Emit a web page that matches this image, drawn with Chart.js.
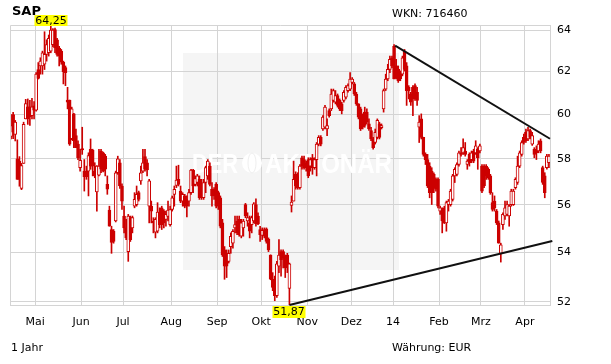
<!DOCTYPE html>
<html>
<head>
<meta charset="utf-8">
<script src="https://cdn.jsdelivr.net/npm/chart.js@4"></script>
<style>
  html, body { margin: 0; padding: 0; background: #fff; }
  canvas { display: block; }
</style>
</head>
<body>
<canvas id="chart" width="611" height="364"></canvas>
<script>
//------------------ Data ------------------//
// x axis: one slot per trading day, month ticks at these day indices
const monthLabels = ['Mai', 'Jun', 'Jul', 'Aug', 'Sep', 'Okt', 'Nov', 'Dez', '14', 'Feb', 'Mrz', 'Apr'];
const monthStarts = [12, 34, 54, 77, 99, 120, 142, 163, 183, 205, 225, 246];
const yTicks = [52, 54, 56, 58, 60, 62, 64];

const open = [
  59.0, 60.0, 59.1, 58.0, 57.9, 56.7, 57.8, 59.8, 60.35, 60.35,
  59.95, 60.4, 60.2, 62.1, 62.27, 62.27, 62.35, 62.82, 62.9, 62.98,
  63.29, 64.03, 63.53, 63.13, 62.98, 62.45, 62.19, 60.67, 60.65, 58.9,
  60.03, 59.04, 58.66, 57.61, 58.46, 57.46, 57.46, 57.46, 58.43, 58.38,
  57.46, 56.55, 57.28, 58.35, 58.27, 58.12, 56.88, 55.77, 54.95, 54.88,
  55.31, 57.39, 57.83, 56.81, 55.52, 55.02, 54.03, 55.45, 55.02, 55.94,
  56.01, 56.52, 57.03, 57.46, 58.1, 57.83, 55.94, 55.94, 55.31, 54.84,
  54.88, 55.69, 55.87, 55.73, 55.38, 55.5, 55.16, 55.8, 56.45, 56.84,
  57.1, 56.59, 56.16, 56.38, 56.23, 56.16, 56.52, 57.51, 56.88, 56.96,
  57.1, 56.81, 56.3, 56.96, 57.25, 57.68, 56.67, 56.67, 56.88, 56.52,
  56.3, 55.23, 54.1, 53.96, 53.63, 54.24, 54.38, 55.02, 55.31, 55.38,
  54.67, 55.02, 56.01, 55.31, 55.23, 55.16, 55.31, 56.01, 55.52, 54.95,
  54.7, 54.95, 54.98, 54.55, 53.89, 52.9, 52.9, 52.24, 53.43, 54.03,
  54.03, 53.83, 53.89, 52.53, 55.97, 56.16, 57.32, 57.25, 56.74, 58.05,
  57.97, 57.83, 57.97, 57.68, 58.05, 57.61, 57.97, 58.66, 58.96, 59.34,
  59.42, 59.34, 60.18, 60.26, 60.65, 60.57, 60.88, 60.65, 60.49, 60.65,
  60.8, 61.11, 61.18, 61.49, 61.42, 60.95, 60.49, 60.26, 59.95, 60.11,
  60.11, 59.57, 59.27, 58.89, 58.73, 58.96, 59.57, 59.4, 60.26, 61.18,
  61.65, 62.11, 62.66, 63.21, 62.27, 62.11, 61.95, 61.88, 62.98, 62.27,
  61.26, 60.95, 61.26, 61.34, 61.03, 59.42, 59.8, 58.96, 58.2, 57.97,
  57.68, 57.46, 57.32, 57.1, 57.1, 55.73, 55.8, 55.87, 55.23, 56.01,
  56.01, 56.23, 57.25, 57.32, 57.75, 58.27, 58.27, 58.35, 57.75, 58.2,
  57.97, 58.35, 58.27, 58.43, 58.35, 57.68, 57.68, 57.68, 57.54, 57.25,
  56.09, 56.16, 55.73, 55.23, 53.96, 55.16, 55.52, 55.59, 55.52, 56.01,
  56.01, 56.74, 56.96, 57.68, 58.2, 58.96, 59.19, 58.89, 59.27, 58.66,
  58.43, 58.43, 58.35, 58.81, 57.61, 57.25, 57.61, 57.83
];
const high = [
  60.0, 60.1, 59.73, 58.85, 58.1, 57.8, 59.65, 60.7, 60.72, 60.65,
  60.75, 60.6, 61.95, 62.43, 62.66, 62.98, 63.92, 63.53, 63.76, 64.25,
  64.08, 64.1, 63.6, 63.21, 63.06, 62.5, 62.27, 61.26, 60.67, 60.34,
  60.05, 59.34, 58.81, 58.43, 59.42, 57.97, 57.68, 58.27, 58.89, 58.43,
  57.83, 57.7, 58.43, 58.43, 58.3, 58.2, 57.25, 55.94, 55.09, 54.95,
  57.46, 58.12, 57.97, 56.9, 55.94, 55.38, 55.59, 55.52, 55.52, 56.52,
  56.81, 56.59, 57.68, 58.43, 58.43, 57.97, 57.1, 56.16, 55.45, 55.45,
  56.09, 55.87, 55.94, 55.8, 55.73, 56.16, 55.94, 56.38, 56.81, 57.68,
  57.72, 56.81, 56.52, 56.45, 56.38, 56.67, 57.54, 57.54, 57.25, 57.32,
  57.25, 57.1, 57.1, 57.68, 57.97, 57.83, 56.96, 56.74, 56.96, 56.59,
  56.38, 55.38, 54.24, 54.1, 54.1, 54.81, 54.95, 55.52, 55.52, 55.52,
  55.38, 55.38, 56.06, 55.66, 55.52, 55.52, 56.09, 56.26, 55.66, 55.09,
  55.02, 55.02, 55.02, 54.6, 53.9, 53.17, 53.03, 53.63, 54.53, 54.1,
  54.1, 53.89, 53.96, 53.56, 56.38, 57.9, 57.43, 57.39, 57.75, 58.12,
  58.12, 57.9, 58.05, 58.05, 58.2, 58.05, 58.73, 59.04, 59.04, 59.95,
  60.42, 59.8, 60.26, 61.18, 61.18, 61.11, 60.95, 60.72, 60.57, 61.11,
  61.34, 61.42, 61.95, 61.72, 61.49, 61.03, 60.5, 60.34, 60.03, 60.34,
  60.26, 59.8, 59.42, 58.96, 59.34, 59.8, 59.65, 59.57, 61.18, 61.88,
  62.35, 62.74, 62.74, 63.29, 62.58, 62.27, 62.03, 62.74, 63.06, 62.43,
  61.34, 61.03, 61.34, 61.42, 61.26, 59.95, 60.03, 58.97, 58.27, 58.2,
  57.83, 57.61, 57.39, 57.17, 57.17, 55.94, 55.87, 55.94, 56.16, 56.23,
  56.67, 57.32, 57.61, 57.83, 58.35, 58.5, 58.89, 58.73, 57.97, 58.27,
  58.35, 58.43, 58.81, 58.5, 58.66, 57.75, 57.75, 57.75, 57.61, 57.32,
  56.52, 56.38, 55.8, 55.31, 54.38, 55.66, 56.16, 56.16, 56.01, 56.67,
  56.67, 57.17, 58.12, 58.35, 58.81, 59.11, 59.34, 59.42, 59.34, 59.19,
  58.5, 58.58, 58.81, 58.89, 57.68, 57.39, 58.2, 58.2
];
const low = [
  58.89, 58.9, 58.8, 57.1, 56.8, 56.65, 57.8, 59.8, 59.55, 59.5,
  59.8, 59.8, 60.15, 61.65, 61.88, 61.88, 62.1, 62.5, 62.74, 62.9,
  63.2, 62.9, 62.74, 62.27, 62.35, 61.42, 61.34, 60.26, 58.6, 58.85,
  58.5, 58.5, 57.97, 57.46, 58.2, 56.59, 57.1, 56.38, 57.54, 57.25,
  57.17, 55.73, 57.25, 57.39, 57.43, 57.25, 56.45, 55.09, 53.96, 54.38,
  55.27, 57.32, 56.7, 55.8, 54.81, 54.53, 53.63, 54.45, 54.81, 55.87,
  55.94, 56.16, 56.88, 57.39, 57.46, 57.25, 55.23, 55.23, 54.81, 54.6,
  54.81, 55.02, 54.95, 55.02, 55.09, 55.31, 55.09, 55.73, 55.94, 56.74,
  56.81, 56.09, 55.94, 55.87, 55.48, 55.94, 56.45, 56.52, 56.81, 56.81,
  56.23, 56.23, 56.23, 56.52, 57.1, 56.81, 55.94, 56.23, 55.87, 55.8,
  55.02, 53.83, 52.9, 52.97, 53.56, 53.96, 54.17, 54.81, 54.74, 54.67,
  54.6, 54.67, 55.45, 55.09, 54.6, 54.81, 55.23, 55.09, 55.16, 54.45,
  54.53, 54.6, 54.38, 54.03, 52.88, 52.44, 52.04, 52.17, 53.17, 53.03,
  53.36, 52.97, 53.17, 51.87, 55.69, 56.16, 56.67, 56.67, 56.67, 57.54,
  57.54, 57.46, 57.17, 57.46, 57.32, 57.54, 57.25, 58.58, 58.58, 59.27,
  59.34, 59.04, 59.88, 60.18, 60.57, 60.49, 60.34, 60.18, 60.03, 60.57,
  60.72, 61.03, 61.11, 61.42, 60.88, 60.42, 59.8, 59.27, 59.34, 59.42,
  59.57, 59.27, 58.81, 58.43, 58.66, 58.89, 58.89, 59.34, 60.11, 61.11,
  61.57, 61.95, 62.19, 61.65, 61.65, 61.49, 61.57, 61.8, 62.03, 60.42,
  60.72, 60.42, 59.95, 60.65, 60.42, 58.73, 58.89, 58.12, 57.75, 56.74,
  56.3, 56.01, 56.52, 56.59, 55.87, 55.59, 54.81, 55.2, 54.88, 55.73,
  55.94, 56.16, 56.96, 57.25, 57.68, 58.12, 58.2, 58.12, 57.54, 57.68,
  57.83, 57.83, 58.2, 57.54, 58.27, 56.52, 56.74, 57.1, 57.1, 56.45,
  55.73, 55.73, 55.16, 54.38, 53.6, 54.95, 55.38, 55.52, 55.09, 55.94,
  55.97, 56.67, 56.88, 57.61, 58.12, 58.66, 58.73, 58.81, 58.89, 58.6,
  58.05, 57.97, 58.27, 58.27, 56.88, 56.3, 57.54, 57.61
];
const close = [
  59.5, 59.2, 59.65, 57.1, 57.1, 57.7, 59.55, 60.5, 59.8, 59.9,
  60.35, 60.2, 61.88, 61.68, 62.5, 62.9, 62.82, 63.29, 63.6, 64.0,
  64.0, 63.13, 62.82, 62.74, 62.45, 62.0, 61.95, 60.57, 58.66, 60.26,
  58.81, 58.5, 58.05, 57.94, 58.4, 57.22, 57.22, 58.15, 57.68, 57.68,
  57.25, 57.68, 57.68, 57.54, 57.46, 57.54, 56.67, 55.09, 54.41, 54.45,
  57.39, 58.0, 56.81, 56.16, 55.02, 54.6, 55.52, 54.53, 55.45, 56.23,
  56.45, 56.23, 57.39, 57.83, 57.54, 57.51, 57.03, 55.73, 55.23, 55.38,
  55.69, 55.16, 55.16, 55.23, 55.59, 55.77, 55.8, 56.3, 56.67, 57.07,
  56.88, 56.16, 56.45, 55.94, 55.94, 56.52, 57.51, 56.81, 57.13, 57.25,
  56.3, 56.3, 56.96, 57.61, 57.9, 56.88, 56.38, 56.38, 55.94, 55.94,
  55.09, 53.89, 53.43, 53.43, 53.96, 54.67, 54.88, 55.16, 54.81, 54.74,
  55.23, 55.31, 55.52, 55.45, 54.88, 55.45, 56.04, 55.2, 55.2, 54.74,
  54.92, 54.67, 54.45, 54.1, 52.9, 52.57, 52.24, 53.53, 53.89, 53.7,
  53.76, 53.36, 53.5, 53.53, 56.12, 57.1, 56.81, 56.74, 57.68, 57.68,
  57.61, 57.61, 57.25, 57.97, 57.61, 57.97, 58.66, 58.96, 58.66, 59.88,
  60.34, 59.5, 59.95, 60.95, 61.11, 60.88, 60.42, 60.26, 60.18, 61.03,
  61.26, 61.34, 61.65, 61.65, 60.95, 60.49, 59.88, 59.34, 59.42, 59.5,
  59.65, 59.34, 58.89, 58.5, 59.19, 59.73, 58.96, 59.5, 61.11, 61.65,
  62.11, 62.58, 62.27, 61.65, 61.72, 61.57, 61.65, 62.66, 62.11, 61.11,
  61.11, 60.57, 60.72, 60.72, 60.65, 59.65, 58.96, 58.2, 57.97, 56.81,
  56.52, 56.52, 56.74, 56.67, 55.94, 55.87, 55.31, 55.23, 56.09, 56.16,
  56.59, 57.25, 57.54, 57.75, 58.27, 58.2, 58.5, 58.2, 57.9, 57.83,
  58.27, 57.9, 58.58, 58.05, 58.58, 56.59, 56.81, 57.25, 57.17, 56.52,
  55.8, 55.87, 55.23, 54.38, 54.31, 55.59, 55.87, 56.01, 55.94, 56.59,
  56.59, 57.1, 57.68, 58.27, 58.73, 58.73, 58.81, 59.27, 58.96, 59.04,
  58.2, 58.27, 58.66, 58.35, 56.96, 56.52, 58.12, 58.12
];

// trend lines (day index, price)
const upperTrend = [{ x: 183.5, y: 63.25 }, { x: 257.5, y: 58.9 }];
const lowerTrend = [{ x: 133, y: 51.87 }, { x: 258.6, y: 54.47 }];

//------------------ Styles ------------------//
const RED = '#cc0000';
const GRID = '#d4d4d4';
const FONT = '"DejaVu Sans", Verdana, sans-serif';

const wicks = close.map((c, i) => ({ x: i, y: [low[i], high[i]] }));
const bodies = close.map((c, i) => ({ x: i, y: [Math.min(open[i], c), Math.max(open[i], c)] }));

function priceLabel(v) {
  return v.toFixed(2).replace('.', ',');
}

// draw text squeezed to a given width
function fitText(ctx, txt, x, y, width) {
  const w = ctx.measureText(txt).width;
  ctx.save();
  ctx.translate(x, y);
  ctx.scale(width / w, 1);
  ctx.fillText(txt, 0, 0);
  ctx.restore();
}

//------------------ Decorations ------------------//
const decor = {
  id: 'decor',
  beforeDraw(chart) {
    const ctx = chart.ctx;
    ctx.save();
    ctx.fillStyle = '#fff';
    ctx.fillRect(0, 0, chart.width, chart.height);
    // watermark panel
    ctx.fillStyle = '#f5f5f5';
    ctx.fillRect(183, 53, 216, 217);
    ctx.restore();
  },
  beforeDatasetsDraw(chart) {
    const ctx = chart.ctx;
    ctx.save();
    ctx.fillStyle = '#ffffff';
    ctx.font = 'bold 27px "Liberation Sans", Arial, sans-serif';
    fitText(ctx, 'DER', 192, 173, 46);
    ctx.beginPath();
    ctx.arc(252, 163, 10, 0, Math.PI * 2);
    ctx.fill();
    ctx.strokeStyle = '#efefef';
    ctx.lineWidth = 1;
    ctx.beginPath();
    ctx.ellipse(252, 163, 4, 10, 0, 0, Math.PI * 2);
    ctx.stroke();
    fitText(ctx, 'AKTIONÄR', 265, 173, 127);
    ctx.restore();
  },
  afterDraw(chart) {
    const ctx = chart.ctx;
    const xs = chart.scales.x, ys = chart.scales.y;
    const a = chart.chartArea;
    ctx.save();
    // top and left frame
    ctx.strokeStyle = GRID;
    ctx.lineWidth = 1;
    ctx.beginPath();
    ctx.moveTo(a.left + 0.5, a.bottom);
    ctx.lineTo(a.left + 0.5, a.top + 0.5);
    ctx.lineTo(a.right, a.top + 0.5);
    ctx.stroke();

    ctx.fillStyle = '#000';
    ctx.textBaseline = 'middle';
    ctx.textAlign = 'left';
    ctx.font = 'bold 13px ' + FONT;
    ctx.fillText('SAP', 12, 12);
    ctx.font = '11px ' + FONT;
    ctx.fillText('WKN: 716460', 392, 14);
    ctx.fillText('1 Jahr', 11, 348);
    ctx.fillText('Währung: EUR', 392, 348);

    // max / min flags
    const hi = Math.max(...high), lo = Math.min(...low);
    const iHi = high.indexOf(hi), iLo = low.indexOf(lo);
    ctx.textAlign = 'center';
    [[iHi, hi, true], [iLo, lo, false]].forEach(([i, v, top]) => {
      const txt = priceLabel(v);
      const w = Math.round(ctx.measureText(txt).width) + 2;
      const cx = Math.round(xs.getPixelForValue(i));
      const py = Math.round(ys.getPixelForValue(v));
      const y0 = top ? py - 10 : py + 1;
      ctx.fillStyle = '#ffff00';
      ctx.fillRect(cx - w / 2, y0, w, top ? 11 : 12);
      ctx.fillStyle = '#000';
      ctx.fillText(txt, cx, y0 + 6);
    });
    ctx.restore();
  }
};

//------------------ Chart ------------------//
const ctx = document.getElementById('chart').getContext('2d');
const chart = new Chart(ctx, {
  type: 'bar',
  data: {
    datasets: [
      {
        type: 'line', data: upperTrend, borderColor: '#111', borderWidth: 2,
        pointRadius: 0, order: 0, clip: 6
      },
      {
        type: 'line', data: lowerTrend, borderColor: '#111', borderWidth: 2,
        pointRadius: 0, order: 0, clip: 6
      },
      {
        data: bodies, order: 1, grouped: false, barThickness: 3,
        borderWidth: 1, borderSkipped: false, borderColor: RED,
        backgroundColor: c => (close[c.dataIndex] >= open[c.dataIndex] ? '#ffffff' : RED)
      },
      {
        data: wicks, order: 2, grouped: false, barThickness: 1,
        borderWidth: 0, backgroundColor: RED
      }
    ]
  },
  options: {
    responsive: false,
    animation: false,
    devicePixelRatio: 1,
    layout: { padding: { left: 10, top: 25, right: 0, bottom: 0 } },
    plugins: { legend: { display: false }, tooltip: { enabled: false } },
    events: [],
    scales: {
      x: {
        type: 'linear', min: -0.5, max: 257.5, offset: false,
        afterBuildTicks: s => { s.ticks = monthStarts.map(v => ({ value: v - 0.5 })); },
        afterFit: s => { s.height = 59; s.paddingLeft = 0; s.paddingRight = 0; },
        ticks: {
          autoSkip: false, maxRotation: 0, padding: 11, color: '#000',
          font: { family: FONT, size: 11 },
          callback: (v, i) => monthLabels[i]
        },
        grid: { color: GRID, drawTicks: false, offset: false },
        border: { color: GRID }
      },
      y: {
        type: 'logarithmic', position: 'right', min: 51.87, max: 64.25,
        afterBuildTicks: s => { s.ticks = yTicks.map(v => ({ value: v })); },
        afterFit: s => { s.width = 61; s.paddingTop = 0; s.paddingBottom = 0; },
        ticks: {
          padding: 7, color: '#000',
          font: { family: FONT, size: 11 },
          callback: v => String(v)
        },
        grid: { color: GRID, drawTicks: false },
        border: { color: GRID }
      }
    }
  },
  plugins: [decor]
});
</script>
</body>
</html>
